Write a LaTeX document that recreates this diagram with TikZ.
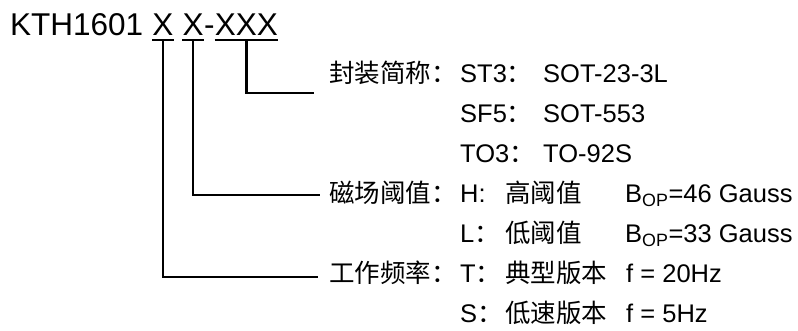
\documentclass[tikz,border=0pt]{standalone}
\usepackage{fontspec}
\setmainfont{Liberation Sans}
\newfontfamily\cjk{Noto Sans CJK SC}
\usetikzlibrary{calc}
\newcommand\zh[1]{{\cjk #1}}
\begin{document}
\begin{tikzpicture}[x=1pt,y=-1pt,
  title/.style={font=\fontsize{31.5}{36}\selectfont, inner sep=0pt, anchor=base west},
  body/.style={font=\fontsize{25.5}{28}\selectfont, inner sep=0pt, anchor=base west},
  uline/.style={line width=2pt},
  conn/.style={line width=2.5pt, line join=miter}]
\useasboundingbox (0,0) rectangle (798,331);
% title
\node[title] (k) at (10,36) {KTH1601};
\node[title] (xa) at ($(k.base east)+(8.76,0)$) {X};
\node[title] (xb) at ($(xa.base east)+(8.76,0)$) {X};
\node[title] (hy) at (xb.base east) {-};
\node[title] (xc) at (hy.base east) {XXX};
\draw[uline] ([yshift=-4pt]xa.base west) -- ([yshift=-4pt]xa.base east);
\draw[uline] ([yshift=-4pt]xb.base west) -- ([yshift=-4pt]xb.base east);
\draw[uline] ([yshift=-4pt]xc.base west) -- ([yshift=-4pt]xc.base east);
\coordinate (ua) at ([yshift=-5pt]xa.base);
\coordinate (ub) at ([yshift=-5pt]xb.base);
\coordinate (uc) at ([yshift=-5pt]xc.base);
% rows
\node[body] (pkg) at (329,83) {\zh{封装简称：}};
\node[body] (k1) at (460,83) {ST3\zh{：}};
\node[body] (v1) at (543,83) {SOT-23-3L};
\node[body] (k2) at (460,123) {SF5\zh{：}};
\node[body] (v2) at (543,123) {SOT-553};
\node[body] (k3) at (460,163) {TO3\zh{：}};
\node[body] (v3) at (543,163) {TO-92S};
\node[body] (mag) at (329,203) {\zh{磁场阈值：}};
\node[body] (k4) at (460,203) {H:};
\node[body] (d4) at (505,203) {\zh{高阈值}};
\node[body] (v4) at (625,203) {B\textsubscript{OP}=46 Gauss};
\node[body] (k5) at (460,243) {L\zh{：}};
\node[body] (d5) at (505,243) {\zh{低阈值}};
\node[body] (v5) at (625,243) {B\textsubscript{OP}=33 Gauss};
\node[body] (frq) at (329,282) {\zh{工作频率：}};
\node[body] (k6) at (460,282) {T\zh{：}};
\node[body] (d6) at (505,282) {\zh{典型版本}};
\node[body] (v6) at (626,282) {f = 20Hz};
\node[body] (k7) at (460,322) {S\zh{：}};
\node[body] (d7) at (505,322) {\zh{低速版本}};
\node[body] (v7) at (626,322) {f = 5Hz};
% connector ends
\coordinate (ec) at (314,93);
\coordinate (eb) at (320,195);
\coordinate (ea) at (318,277);
\draw[conn] (uc) |- (ec);
\draw[conn] (ub) |- (eb);
\draw[conn] (ua) |- (ea);
\end{tikzpicture}
\end{document}
